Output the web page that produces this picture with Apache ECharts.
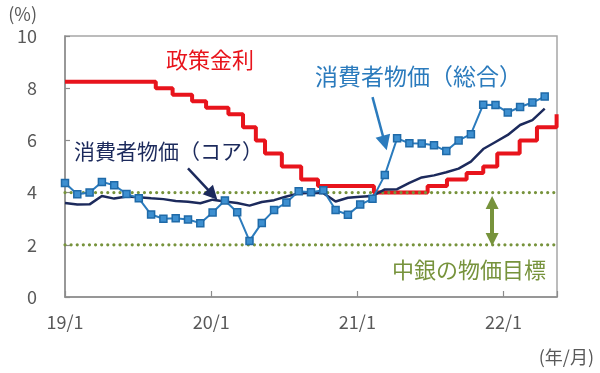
<!DOCTYPE html>
<html>
<head>
<meta charset="utf-8">
<script src="https://cdn.jsdelivr.net/npm/echarts@6/dist/echarts.min.js"></script>
<style>html,body{margin:0;padding:0;background:#fff}#c{width:600px;height:373px}</style>
</head>
<body>
<div id="c"></div>
<script>
// ---- data ----
const months = ['19/1','19/2','19/3','19/4','19/5','19/6','19/7','19/8','19/9','19/10','19/11','19/12',
  '20/1','20/2','20/3','20/4','20/5','20/6','20/7','20/8','20/9','20/10','20/11','20/12',
  '21/1','21/2','21/3','21/4','21/5','21/6','21/7','21/8','21/9','21/10','21/11','21/12',
  '22/1','22/2','22/3','22/4','22/5'];
const cpiHeadline = [4.37,3.94,4.00,4.41,4.28,3.95,3.78,3.16,3.00,3.02,2.97,2.83,
  3.24,3.70,3.25,2.15,2.84,3.33,3.62,4.05,4.01,4.09,3.33,3.15,
  3.54,3.76,4.67,6.08,5.89,5.88,5.81,5.59,6.00,6.24,7.37,7.36,
  7.07,7.28,7.45,7.68];
const cpiCore = [3.60,3.54,3.55,3.87,3.77,3.85,3.82,3.78,3.75,3.68,3.65,3.59,
  3.73,3.66,3.60,3.50,3.64,3.71,3.85,3.97,3.99,3.98,3.66,3.80,
  3.84,3.87,4.12,4.13,4.37,4.58,4.66,4.78,4.92,5.19,5.67,5.94,
  6.21,6.59,6.78,7.22];
const rateDates = ['2019-01-01','2019-08-15','2019-09-26','2019-11-14','2019-12-19','2020-02-13','2020-03-20',
  '2020-04-21','2020-05-14','2020-06-25','2020-08-13','2020-09-24','2021-02-11','2021-06-24','2021-08-12',
  '2021-09-30','2021-11-11','2021-12-16','2022-02-10','2022-03-24','2022-05-12'];
const rateValues = [8.25,8.00,7.75,7.50,7.25,7.00,6.50,6.00,5.50,5.00,4.50,4.25,4.00,4.25,4.50,4.75,5.00,5.50,6.00,6.50,7.00];
const dataEnd = '2022-05-13';
const targetBand = [2, 4];
const yTicks = {min: 0, max: 10, step: 2};

// ---- helpers ----
function toMonths(s){
  const [y,m,d] = s.split('-').map(Number);
  const dim = new Date(y, m, 0).getDate();
  return (y-2019)*12 + (m-1) + (d-1)/dim;
}
const xMax = toMonths(dataEnd);
const rateData = rateDates.map((d,i)=>[toMonths(d), rateValues[i]]);
rateData.push([xMax, rateValues[rateValues.length-1]]);

const FONT = "'Noto Sans CJK JP', 'Noto Sans', sans-serif";
const GRAY = '#595959';
const RED = '#e8141c';
const BLUE = '#2b7bbd';
const NAVY = '#1c2a5c';
const OLIVE = '#77933c';

const chart = echarts.init(document.getElementById('c'), null, {renderer:'canvas'});
const dotStyle = {color: OLIVE, width: 3.2, type: [0.01, 6.1], cap: 'round'};

chart.setOption({
  animation: false,
  grid: {left: 65, top: 36, right: 43, bottom: 76, show: true, borderColor: '#a6a6a6', borderWidth: 1.5},
  xAxis: [
    {type: 'value', min: 0, max: xMax, interval: 12,
     axisLine: {show: true, lineStyle: {color: '#8c8c8c', width: 1.5}},
     axisTick: {show: true, inside: true, length: 6, lineStyle: {color: '#8c8c8c', width: 1.2}},
     splitLine: {show: false},
     axisLabel: {margin: 16, color: GRAY, fontSize: 18, fontFamily: FONT,
       formatter: v => (Math.abs(v % 12) < 1e-6 ? (19 + Math.round(v/12)) + '/1' : '')}},
    {type: 'category', data: months, boundaryGap: false, show: false}
  ],
  yAxis: {type: 'value', min: yTicks.min, max: yTicks.max, interval: yTicks.step,
    axisLine: {show: true, lineStyle: {color: '#8c8c8c', width: 1.5}},
    axisTick: {show: true, inside: true, length: 5, lineStyle: {color: '#8c8c8c', width: 1.2}},
    splitLine: {show: false},
    axisLabel: {margin: 28, color: GRAY, fontSize: 18, fontFamily: FONT}},
  series: [
    {name: '政策金利', type: 'line', xAxisIndex: 0, step: 'end', data: rateData, symbol: 'none',
     lineStyle: {color: RED, width: 4}, z: 2, silent: true},
    {name: 'upper', type: 'line', xAxisIndex: 0, data: [[0, targetBand[1]], [xMax, targetBand[1]]], symbol: 'none',
     lineStyle: dotStyle, z: 3, silent: true},
    {name: 'lower', type: 'line', xAxisIndex: 0, data: [[0, targetBand[0]], [xMax, targetBand[0]]], symbol: 'none',
     lineStyle: dotStyle, z: 3, silent: true,
     markLine: {silent: true, symbol: ['triangle','triangle'], symbolSize: 13, label: {show: false},
       lineStyle: {color: OLIVE, width: 4, type: 'solid'},
       data: [[{coord: [35.06, 3.62]}, {coord: [35.06, 2.2]}]]}},
    {name: '消費者物価（コア）', type: 'line', xAxisIndex: 1, data: cpiCore, symbol: 'none',
     lineStyle: {color: NAVY, width: 2.5}, z: 4, silent: true,
     markLine: {silent: true, symbol: ['none','triangle'], symbolSize: 14, label: {show: false},
       lineStyle: {color: NAVY, width: 2.5, type: 'solid'},
       data: [[{coord: [10.1, 4.93]}, {coord: [11.75, 3.92]}]]}},
    {name: '消費者物価（総合）', type: 'line', xAxisIndex: 1, data: cpiHeadline, symbol: 'rect', symbolSize: 7,
     lineStyle: {color: BLUE, width: 2}, itemStyle: {color: '#3d8fd0', borderColor: '#1f6aa8', borderWidth: 1.5},
     z: 5, silent: true,
     markLine: {silent: true, symbol: ['none','triangle'], symbolSize: 15, label: {show: false},
       lineStyle: {color: BLUE, width: 2.5, type: 'solid'},
       data: [[{coord: [25.0, 7.66]}, {coord: [26.15, 5.9]}]]}}
  ],
  graphic: [
    {type: 'text', x: 166, y: 60, style: {text: '政策金利', font: '22px ' + FONT, fill: RED, textAlign: 'left', textVerticalAlign: 'middle', align: 'left', verticalAlign: 'middle'}},
    {type: 'text', x: 315, y: 76, style: {text: '消費者物価（総合）', font: '23px ' + FONT, fill: BLUE, textAlign: 'left', textVerticalAlign: 'middle', align: 'left', verticalAlign: 'middle'}},
    {type: 'text', x: 74, y: 151, style: {text: '消費者物価（コア）', font: '21px ' + FONT, fill: NAVY, textAlign: 'left', textVerticalAlign: 'middle', align: 'left', verticalAlign: 'middle'}},
    {type: 'text', x: 392, y: 270, style: {text: '中銀の物価目標', font: '22px ' + FONT, fill: OLIVE, textAlign: 'left', textVerticalAlign: 'middle', align: 'left', verticalAlign: 'middle'}},
    {type: 'text', x: 37, y: 14, style: {text: '(%)', font: '18px ' + FONT, fill: GRAY, textAlign: 'right', textVerticalAlign: 'middle', align: 'right', verticalAlign: 'middle'}},
    {type: 'text', x: 594, y: 357, style: {text: '(年/月)', font: '18px ' + FONT, fill: GRAY, textAlign: 'right', textVerticalAlign: 'middle', align: 'right', verticalAlign: 'middle'}}
  ]
});
</script>
</body>
</html>
